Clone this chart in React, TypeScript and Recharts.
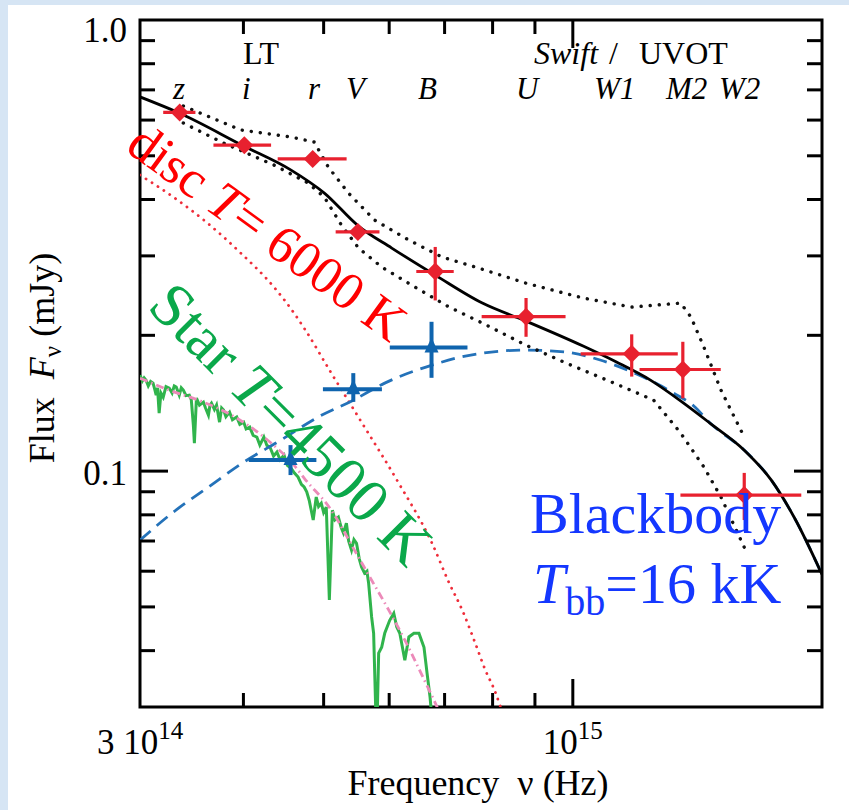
import React from "react";
import {
  ComposedChart,
  Line,
  Scatter,
  XAxis,
  YAxis,
  ErrorBar,
  ReferenceArea,
} from "recharts";

// Frequencies are in units of 1e14 Hz, fluxes in mJy.

// LT + Swift/UVOT photometry (red)
const filterNames = ["z", "i", "r", "V", "B", "U", "W1", "M2", "W2"];
const obsNu = [3.35, 4.01, 4.85, 5.5, 6.82, 8.78, 11.78, 13.58, 16.11];
const obsNuLo = [3.2, 3.68, 4.4, 5.17, 6.47, 7.76, 10.22, 12.04, 13.49];
const obsNuHi = [3.5, 4.32, 5.33, 5.84, 7.18, 9.8, 13.39, 15.09, 18.88];
const obsFlux = [0.624, 0.528, 0.492, 0.339, 0.277, 0.22, 0.182, 0.168, 0.0885];
const obsFluxLo = [0.624, 0.528, 0.492, 0.339, 0.239, 0.1985, 0.162, 0.145, 0.0779];
const obsFluxHi = [0.624, 0.528, 0.492, 0.339, 0.314, 0.242, 0.201, 0.1935, 0.0991];

// star-subtracted points (blue)
const subNu = [4.56, 5.43, 6.75];
const subNuLo = [4.06, 4.99, 6.01];
const subNuHi = [4.9, 5.88, 7.46];
const subFlux = [0.1058, 0.1518, 0.188];
const subFluxLo = [0.098, 0.1424, 0.161];
const subFluxHi = [0.1142, 0.1649, 0.2143];

// total model
const totalNu = [3.0, 3.346, 4.004, 4.567, 5.01, 5.509, 6.043, 6.819, 7.775, 8.773, 10.29, 11.29, 12.41, 13.61, 14.64, 16.11, 17.37, 18.53, 20.0];
const totalFlux = [0.6753, 0.622, 0.5255, 0.4648, 0.4134, 0.3493, 0.3122, 0.272, 0.2358, 0.2151, 0.1893, 0.1745, 0.1591, 0.1415, 0.1278, 0.1113, 0.0955, 0.0787, 0.059];

// model envelope
const upperNu = [3.384, 3.97, 4.567, 4.871, 5.065, 5.357, 5.762, 6.338, 6.952, 7.625, 8.771, 10.29, 11.77, 13.5, 13.89, 14.4, 15.1, 16.11];
const upperFlux = [0.6446, 0.5705, 0.5503, 0.5364, 0.4721, 0.4134, 0.3601, 0.3251, 0.2982, 0.2834, 0.2611, 0.2419, 0.231, 0.2358, 0.2195, 0.1883, 0.1512, 0.119];
const lowerNu = [3.384, 3.785, 4.354, 4.789, 5.009, 5.253, 5.51, 5.876, 6.445, 7.089, 7.776, 8.771, 9.811, 11.29, 12.52, 13.5, 14.4, 15.1, 16.11];
const lowerFlux = [0.591, 0.5337, 0.477, 0.4351, 0.4051, 0.3511, 0.3122, 0.2834, 0.2559, 0.231, 0.2129, 0.1903, 0.1736, 0.1559, 0.1437, 0.1214, 0.1021, 0.0876, 0.0678];

// disc component, T = 6000 K
const discNu = [3.0, 3.291, 3.619, 3.97, 4.354, 4.605, 4.736, 5.108, 5.603, 6.163, 6.76, 7.089, 7.352, 7.625, 7.841, 8.042, 8.178, 8.34];
const discFlux = [0.4532, 0.4051, 0.3547, 0.3044, 0.2559, 0.224, 0.2075, 0.1649, 0.1252, 0.094, 0.0692, 0.0565, 0.0492, 0.0415, 0.0362, 0.0327, 0.03, 0.0267];

// blackbody component, 16 kK
const bbNu = [3.0, 3.291, 3.629, 4.003, 4.441, 4.925, 5.433, 5.926, 6.76, 7.414, 8.771, 9.811, 10.79, 11.94, 13.24, 14.0, 14.65, 16.11, 17.37, 18.53, 20.0];
const bbFlux = [0.0703, 0.0811, 0.0922, 0.1047, 0.1172, 0.1318, 0.1437, 0.1567, 0.1718, 0.1799, 0.1855, 0.1836, 0.1763, 0.1641, 0.1489, 0.1394, 0.1278, 0.1113, 0.0955, 0.0787, 0.059];

// stellar template, 4500 K
const starNu = [3.0, 3.254, 3.579, 3.926, 4.306, 4.605, 4.736, 5.108, 5.448, 5.714, 5.993, 6.267, 6.573, 6.855, 7.05];
const starFlux = [0.1607, 0.1512, 0.1422, 0.1311, 0.116, 0.1031, 0.0965, 0.0819, 0.0668, 0.0573, 0.0492, 0.0422, 0.0353, 0.03, 0.0267];

// observed stellar spectrum
const specNu = [
  3.0, 3.02, 3.035, 3.051, 3.07, 3.09, 3.111, 3.125, 3.138, 3.15,
  3.164, 3.18, 3.2, 3.225, 3.254, 3.28, 3.3, 3.318, 3.346, 3.365,
  3.384, 3.41, 3.441, 3.46, 3.48, 3.49, 3.51, 3.54, 3.579, 3.6,
  3.629, 3.645, 3.66, 3.69, 3.712, 3.743, 3.765, 3.785, 3.81, 3.849,
  3.88, 3.926, 3.96, 4.003, 4.03, 4.071, 4.11, 4.152, 4.187, 4.234,
  4.27, 4.306, 4.35, 4.391, 4.43, 4.478, 4.52, 4.567, 4.61, 4.657,
  4.7, 4.736, 4.77, 4.803, 4.857, 4.898, 4.93, 4.967, 5.0, 5.037,
  5.08, 5.123, 5.16, 5.209, 5.25, 5.283, 5.327, 5.36, 5.403, 5.44,
  5.479, 5.52, 5.556, 5.603, 5.64, 5.666, 5.714, 5.746, 5.794, 5.827,
  5.876, 5.926, 6.009, 6.077, 6.128, 6.18, 6.267, 6.338, 6.427, 6.518,
  6.61, 6.666, 6.722, 6.798,
];
const specFlux = [
  0.1632, 0.1585, 0.161, 0.1591, 0.1545, 0.158, 0.1567, 0.152, 0.1474, 0.153,
  0.1345, 0.149, 0.1459, 0.154, 0.1528, 0.149, 0.1545, 0.1536, 0.1474, 0.153,
  0.1512, 0.147, 0.1474, 0.144, 0.1265, 0.1154, 0.1451, 0.14, 0.1422, 0.138,
  0.1331, 0.14, 0.1415, 0.137, 0.1401, 0.1284, 0.138, 0.1366, 0.132, 0.1351,
  0.13, 0.1318, 0.127, 0.1284, 0.124, 0.1252, 0.12, 0.119, 0.1142, 0.119,
  0.114, 0.1131, 0.108, 0.1102, 0.106, 0.1085, 0.103, 0.1015, 0.099, 0.097,
  0.0935, 0.0922, 0.09, 0.0862, 0.0779, 0.0876, 0.0835, 0.0849, 0.081, 0.0832,
  0.0518, 0.0819, 0.078, 0.0791, 0.075, 0.0729, 0.0767, 0.07, 0.0668, 0.0705,
  0.0692, 0.064, 0.0613, 0.0594, 0.06, 0.0565, 0.0475, 0.0437, 0.025, 0.0395,
  0.0407, 0.0437, 0.0467, 0.0484, 0.0451, 0.0437, 0.0381, 0.0429, 0.0437, 0.0437,
  0.0407, 0.0357, 0.0316, 0.025,
];

const freqTicks = [3, 4, 5, 6, 7, 8, 9, 10];
const fluxTicks = [0.03, 0.04, 0.05, 0.06, 0.07, 0.08, 0.09, 0.1, 0.2, 0.3, 0.4, 0.5, 0.6, 0.7, 0.8, 0.9, 1.0];

const rows = (nu: number[], f: number[]) => nu.map((n, i) => ({ nu: n, f: f[i] }));

const withErrors = (nu: number[], lo: number[], hi: number[], f: number[], fLo: number[], fHi: number[]) =>
  nu.map((n, i) => ({
    nu: n,
    f: f[i],
    nuErr: [n - lo[i], hi[i] - n],
    fErr: [f[i] - fLo[i], fHi[i] - f[i]],
  }));

const redPoints = withErrors(obsNu, obsNuLo, obsNuHi, obsFlux, obsFluxLo, obsFluxHi);
const bluePoints = withErrors(subNu, subNuLo, subNuHi, subFlux, subFluxLo, subFluxHi);

const FONT = "'Liberation Serif', 'Times New Roman', serif";
const RED = "#e8212f";
const BLUE = "#0f64ae";

// plot frame in pixels
const LEFT = 140;
const RIGHT = 822;
const TOP = 20;
const BOTTOM = 707;

const FreqTick = (props: any) => {
  const { x, payload } = props;
  const v = payload.value;
  const len = v === 10 ? 28 : 14;
  return (
    <g>
      {v !== 3 && (
        <>
          <line x1={x} x2={x} y1={BOTTOM} y2={BOTTOM - len} stroke="#000" strokeWidth={3} />
          <line x1={x} x2={x} y1={TOP} y2={TOP + len} stroke="#000" strokeWidth={3} />
        </>
      )}
      {v === 3 && (
        <text x={x} y={754} textAnchor="middle" fontFamily={FONT} fontSize={35} fill="#000">
          3 10<tspan fontSize={25} dy={-15}>14</tspan>
        </text>
      )}
      {v === 10 && (
        <text x={x} y={754} textAnchor="middle" fontFamily={FONT} fontSize={35} fill="#000">
          10<tspan fontSize={25} dy={-15}>15</tspan>
        </text>
      )}
    </g>
  );
};

const FluxTick = (props: any) => {
  const { y, payload } = props;
  const v = payload.value;
  const major = v === 1 || v === 0.1;
  const len = major ? 28 : 15;
  const edge = v === 1 || v === 0.03;
  return (
    <g>
      {!edge && (
        <>
          <line x1={LEFT} x2={LEFT + len} y1={y} y2={y} stroke="#000" strokeWidth={3} />
          <line x1={RIGHT} x2={RIGHT - len} y1={y} y2={y} stroke="#000" strokeWidth={3} />
        </>
      )}
      {v === 1 && (
        <text x={127} y={y + 22} textAnchor="end" fontFamily={FONT} fontSize={35} fill="#000">1.0</text>
      )}
      {v === 0.1 && (
        <text x={127} y={y + 14} textAnchor="end" fontFamily={FONT} fontSize={35} fill="#000">0.1</text>
      )}
    </g>
  );
};

const Diamond = (p: any) => {
  const { cx, cy } = p;
  if (cx == null || cy == null) return <g />;
  const s = 9;
  return <path d={`M${cx},${cy - s}L${cx + s},${cy}L${cx},${cy + s}L${cx - s},${cy}Z`} fill={RED} />;
};

const Triangle = (p: any) => {
  const { cx, cy } = p;
  if (cx == null || cy == null) return <g />;
  return <path d={`M${cx},${cy - 10}L${cx + 7},${cy + 5}L${cx - 7},${cy + 5}Z`} fill={BLUE} />;
};

export default function App() {
  const nb = "\u00a0";
  return (
    <div
      style={{
        position: "absolute",
        left: 0,
        top: 0,
        width: 849,
        height: 810,
        background: "#d6e5f4",
        overflow: "hidden",
      }}
    >
      <div style={{ position: "absolute", left: 8, top: 5, right: 0, bottom: 0, background: "#fff" }} />
      <div style={{ position: "absolute", left: 0, top: 0 }}>
        <ComposedChart width={849} height={810} margin={{ top: TOP, right: 849 - RIGHT, bottom: 810 - BOTTOM - 30, left: LEFT - 60 }}>
          <XAxis
            type="number"
            dataKey="nu"
            scale="log"
            domain={[3, 20]}
            allowDataOverflow
            ticks={freqTicks}
            interval={0}
            tick={(p: any) => <FreqTick {...p} />}
            tickLine={false}
            axisLine={false}
            height={30}
          />
          <YAxis
            type="number"
            dataKey="f"
            scale="log"
            domain={[0.03, 1]}
            allowDataOverflow
            ticks={fluxTicks}
            interval={0}
            tick={(p: any) => <FluxTick {...p} />}
            tickLine={false}
            axisLine={false}
            width={60}
          />

          {/* stellar spectrum and template */}
          <Line data={rows(specNu, specFlux)} dataKey="f" type="linear" dot={false} stroke="#30b44c" strokeWidth={3} isAnimationActive={false} />
          <Line data={rows(starNu, starFlux)} dataKey="f" type="monotone" dot={false} stroke="#ec8ab9" strokeWidth={2.8} strokeDasharray="8 4 1.5 4" isAnimationActive={false} />

          {/* disc and blackbody components */}
          <Line data={rows(discNu, discFlux)} dataKey="f" type="monotone" dot={false} stroke="#ef2d3a" strokeWidth={2.8} strokeDasharray="0.1 7" strokeLinecap="round" isAnimationActive={false} />
          <Line data={rows(bbNu, bbFlux)} dataKey="f" type="monotone" dot={false} stroke="#2472b9" strokeWidth={2.8} strokeDasharray="14 8" isAnimationActive={false} />

          {/* envelope and total */}
          <Line data={rows(upperNu, upperFlux)} dataKey="f" type="linear" dot={false} stroke="#111" strokeWidth={3.4} strokeDasharray="0.1 9" strokeLinecap="round" isAnimationActive={false} />
          <Line data={rows(lowerNu, lowerFlux)} dataKey="f" type="linear" dot={false} stroke="#111" strokeWidth={3.4} strokeDasharray="0.1 9" strokeLinecap="round" isAnimationActive={false} />
          <Line data={rows(totalNu, totalFlux)} dataKey="f" type="monotone" dot={false} stroke="#000" strokeWidth={2.8} isAnimationActive={false} />

          <Scatter data={bluePoints} shape={(p: any) => <Triangle {...p} />} isAnimationActive={false}>
            <ErrorBar dataKey="nuErr" direction="x" width={0} stroke={BLUE} strokeWidth={4} />
            <ErrorBar dataKey="fErr" direction="y" width={0} stroke={BLUE} strokeWidth={4} />
          </Scatter>
          <Scatter data={redPoints} shape={(p: any) => <Diamond {...p} />} isAnimationActive={false}>
            <ErrorBar dataKey="nuErr" direction="x" width={0} stroke={RED} strokeWidth={3.2} />
            <ErrorBar dataKey="fErr" direction="y" width={0} stroke={RED} strokeWidth={3.2} />
          </Scatter>

          <ReferenceArea x1={3} x2={20} y1={0.03} y2={1} fill="none" stroke="#000" strokeWidth={3} ifOverflow="visible" />
        </ComposedChart>
      </div>

      <svg width={849} height={810} style={{ position: "absolute", left: 0, top: 0, pointerEvents: "none" }} fontFamily={FONT}>
        {/* instrument headers */}
        <text x={243} y={64} fontSize={32} fill="#000">LT</text>
        <text y={64} fontSize={32} fill="#000">
          <tspan x={534} fontStyle="italic">Swift</tspan>
          <tspan x={609}>/</tspan>
          <tspan x={639}>UVOT</tspan>
        </text>
        <g fontSize={31} fontStyle="italic" fill="#000">
          <text x={173} y={99}>{filterNames[0]}</text>
          <text x={242} y={99}>{filterNames[1]}</text>
          <text x={308} y={99}>{filterNames[2]}</text>
          <text x={346} y={99}>{filterNames[3]}</text>
          <text x={418} y={99}>{filterNames[4]}</text>
          <text x={516} y={99}>{filterNames[5]}</text>
          <text x={594} y={99}>{filterNames[6]}</text>
          <text x={666} y={99}>{filterNames[7]}</text>
          <text x={719} y={99}>{filterNames[8]}</text>
        </g>

        {/* axis titles */}
        <text x={478} y={795} textAnchor="middle" fontSize={36} fill="#000">
          {`Frequency${nb}${nb}ν (Hz)`}
        </text>
        <text transform="translate(54,358) rotate(-90)" textAnchor="middle" fontSize={36} fill="#000">
          {`Flux${nb}${nb}`}
          <tspan fontStyle="italic">F</tspan>
          <tspan fontSize={25} dy={7}>ν</tspan>
          <tspan dy={-7}>{`${nb}(mJy)`}</tspan>
        </text>

        {/* component labels */}
        <text transform="translate(124,150) rotate(36)" fontSize={53} fill="#ff0000">
          disc <tspan fontStyle="italic">T</tspan>= 6000 K
        </text>
        <text transform="translate(146,308) rotate(45)" fontSize={62} fill="#0aa84a">
          Star <tspan fontStyle="italic">T</tspan>=4500 K
        </text>
        <text x={530} y={533} fontSize={58} fill="#1437ff">Blackbody</text>
        <text x={533} y={603} fontSize={58} fill="#1437ff">
          <tspan fontStyle="italic">T</tspan>
          <tspan fontSize={40} dy={12}>bb</tspan>
          <tspan dy={-12}>=16 kK</tspan>
        </text>
      </svg>
    </div>
  );
}
